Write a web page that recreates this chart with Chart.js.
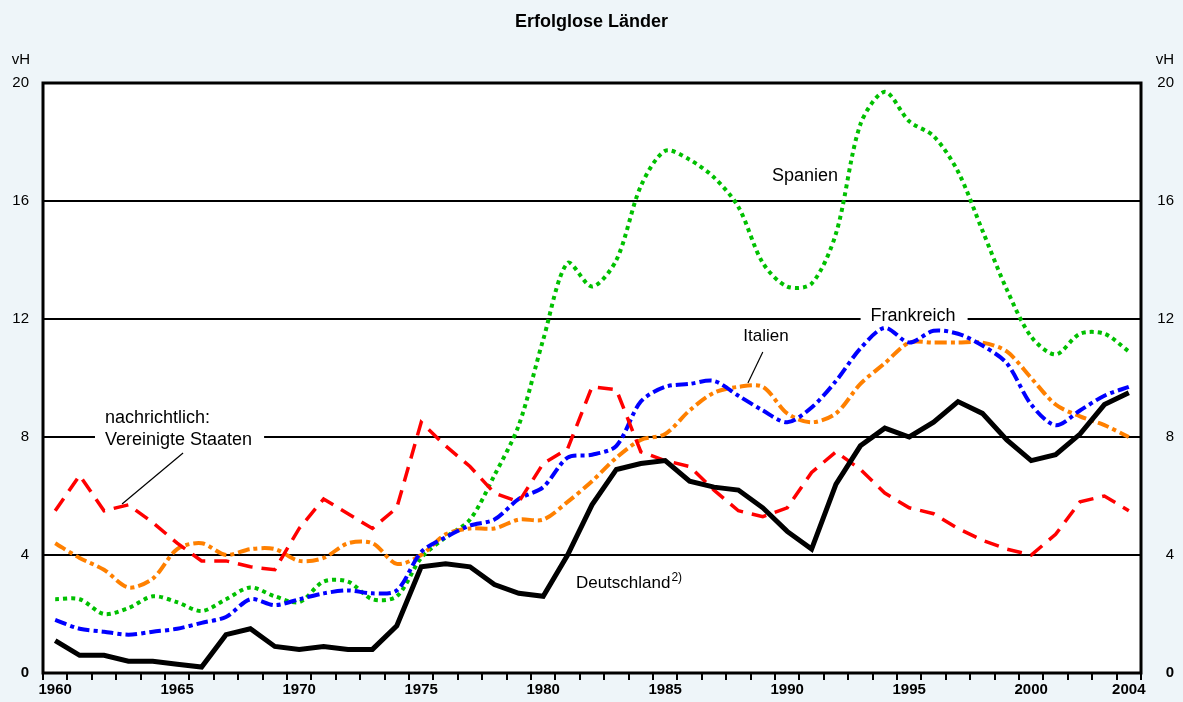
<!DOCTYPE html>
<html>
<head>
<meta charset="utf-8">
<script src="https://cdn.jsdelivr.net/npm/chart.js@4.4.1/dist/chart.umd.min.js"></script>
<style>
  body { margin: 0; background: #EEF5F9; }
  #wrap { width: 1183px; height: 702px; position: relative; }
</style>
</head>
<body>
<div id="wrap"><canvas id="mycanvas"></canvas></div>
<script>
// Arbeitslosenquoten in vH, 1960 - 2004
var years = [];
for (var y = 1960; y <= 2004; y++) years.push(String(y));

var deutschland = [1.1, 0.6, 0.6, 0.4, 0.4, 0.3, 0.2, 1.3, 1.5, 0.9,
                   0.8, 0.9, 0.8, 0.8, 1.6, 3.6, 3.7, 3.6, 3.0, 2.7,
                   2.6, 4.0, 5.7, 6.9, 7.1, 7.2, 6.5, 6.3, 6.2, 5.6,
                   4.8, 4.2, 6.4, 7.7, 8.3, 8.0, 8.5, 9.2, 8.8, 7.9,
                   7.2, 7.4, 8.1, 9.1, 9.5];
var spanien = [2.5, 2.5, 2.0, 2.2, 2.6, 2.4, 2.1, 2.5, 2.9, 2.6,
               2.4, 3.1, 3.1, 2.5, 2.6, 3.9, 4.6, 5.2, 6.7, 8.4,
               11.3, 13.9, 13.1, 14.0, 16.5, 17.7, 17.4, 16.8, 15.8, 13.9,
               13.1, 13.2, 14.9, 18.6, 19.7, 18.7, 18.2, 17.0, 15.0, 13.0,
               11.4, 10.8, 11.5, 11.5, 10.9];
var frankreich = [1.8, 1.5, 1.4, 1.3, 1.4, 1.5, 1.7, 1.9, 2.5, 2.3,
                  2.5, 2.7, 2.8, 2.7, 2.8, 4.1, 4.6, 5.0, 5.2, 5.9,
                  6.3, 7.3, 7.4, 7.7, 9.2, 9.7, 9.8, 9.9, 9.4, 8.9,
                  8.5, 9.0, 9.9, 11.0, 11.7, 11.2, 11.6, 11.5, 11.1, 10.5,
                  9.1, 8.4, 8.9, 9.4, 9.7];
var italien = [4.4, 3.9, 3.5, 2.9, 3.2, 4.2, 4.4, 4.0, 4.2, 4.2,
               3.8, 3.9, 4.4, 4.4, 3.7, 4.0, 4.7, 4.9, 4.9, 5.2,
               5.2, 5.8, 6.5, 7.3, 7.9, 8.1, 8.9, 9.5, 9.7, 9.7,
               8.8, 8.5, 8.8, 9.8, 10.5, 11.2, 11.2, 11.2, 11.2, 10.9,
               10.0, 9.1, 8.7, 8.4, 8.0];
var usa = [5.5, 6.7, 5.5, 5.7, 5.1, 4.4, 3.8, 3.8, 3.6, 3.5,
           4.9, 5.9, 5.4, 4.9, 5.6, 8.5, 7.7, 7.0, 6.1, 5.8,
           7.1, 7.6, 9.7, 9.6, 7.5, 7.2, 7.0, 6.2, 5.5, 5.3,
           5.6, 6.8, 7.5, 6.9, 6.1, 5.6, 5.4, 4.9, 4.5, 4.2,
           4.0, 4.7, 5.8, 6.0, 5.5];

var yTicks = [0, 4, 8, 12, 16, 20];

var FONT = "'Liberation Sans', Arial, sans-serif";

// Beschriftungen im Diagramm (Jahr, Wert der Grundlinie)
var labels = [
  { text: 'Spanien', year: 1990.73, value: 16.68, align: 'center', size: 18 },
  { text: 'Frankreich', year: 1995.16, value: 11.93, align: 'center', size: 18, box: true },
  { text: 'Italien', year: 1989.13, value: 11.25, align: 'center', size: 17 },
  { text: 'nachrichtlich:', year: 1962.04, value: 8.47, align: 'left', size: 18 },
  { text: 'Vereinigte Staaten', year: 1962.04, value: 7.73, align: 'left', size: 18, box: true },
  { text: 'Deutschland', year: 1981.34, value: 2.88, align: 'left', size: 17, sup: '2)' }
];
// Hinweislinien
var leaders = [
  { x1: 1989.0, y1: 10.88, x2: 1988.39, y2: 9.83 },
  { x1: 1965.24, y1: 7.46, x2: 1962.74, y2: 5.73 }
];

var px = function (chart, year) { return chart.scales.x.getPixelForValue(year - 1960); };
var py = function (chart, v) { return chart.scales.y.getPixelForValue(v); };

var decor = {
  id: 'decor',
  beforeDraw: function (chart) {
    var a = chart.chartArea, c = chart.ctx;
    c.save();
    c.fillStyle = '#ffffff';
    c.fillRect(a.left, a.top, a.right - a.left, a.bottom - a.top);
    c.restore();
  },
  beforeDatasetsDraw: function (chart) {
    var c = chart.ctx;
    c.save();
    c.textBaseline = 'alphabetic';
    c.textAlign = 'left';
    labels.forEach(function (l) {
      c.font = l.size + 'px ' + FONT;
      var x = px(chart, l.year), y = py(chart, l.value);
      var w = c.measureText(l.text).width;
      var left = l.align === 'center' ? x - w / 2 : x;
      if (l.box) {
        c.fillStyle = '#ffffff';
        c.fillRect(left - 10, y - 16, w + 22, 22);
      }
      c.fillStyle = '#000';
      c.fillText(l.text, left, y);
      if (l.sup) {
        c.font = '12px ' + FONT;
        c.fillText(l.sup, left + w + 1, y - 7);
      }
    });
    c.strokeStyle = '#000';
    c.lineWidth = 1.2;
    leaders.forEach(function (l) {
      c.beginPath();
      c.moveTo(px(chart, l.x1), py(chart, l.y1));
      c.lineTo(px(chart, l.x2), py(chart, l.y2));
      c.stroke();
    });
    c.restore();
  },
  afterDatasetsDraw: function (chart) {
    var a = chart.chartArea, c = chart.ctx;
    c.save();
    c.strokeStyle = '#000';
    c.lineWidth = 3;
    c.strokeRect(a.left, a.top, a.right - a.left, a.bottom - a.top);
    c.restore();
  },
  afterDraw: function (chart) {
    var a = chart.chartArea, c = chart.ctx;
    c.save();
    c.fillStyle = '#000';
    c.font = 'bold 18px ' + FONT;
    c.textAlign = 'center';
    c.textBaseline = 'alphabetic';
    c.fillText('Erfolglose Länder', chart.width / 2, 27);
    c.font = '15px ' + FONT;
    c.textAlign = 'right';
    c.fillText('vH', a.left - 13, 64);
    c.fillText('vH', chart.scales.y2.right, 64);
    c.restore();
  }
};

var tickFont = function (ctx) {
  return { family: FONT, size: 15, weight: ctx.tick && ctx.tick.value === 0 ? 'bold' : 'normal' };
};

var ctx_live = document.getElementById('mycanvas');
var myChart = new Chart(ctx_live, {
  type: 'line',
  data: {
    labels: years,
    datasets: [{
      label: 'Deutschland',
      data: deutschland,
      borderColor: '#000000',
      borderWidth: 5,
      borderJoinStyle: 'miter',
      tension: 0
    }, {
      label: 'Vereinigte Staaten',
      data: usa,
      borderColor: '#FF0000',
      borderWidth: 3.5,
      borderDash: [15, 9],
      tension: 0
    }, {
      label: 'Frankreich',
      data: frankreich,
      borderColor: '#0000FF',
      borderWidth: 4,
      borderDash: [12, 4, 4, 4],
      tension: 0.3
    }, {
      label: 'Italien',
      data: italien,
      borderColor: '#FF8000',
      borderWidth: 4,
      borderDash: [12, 4, 4, 4],
      tension: 0.3
    }, {
      label: 'Spanien',
      data: spanien,
      borderColor: '#00C000',
      borderWidth: 4,
      borderDash: [4, 4],
      tension: 0.3
    }]
  },
  options: {
    responsive: true,
    maintainAspectRatio: false,
    animation: false,
    layout: { padding: { top: 83, right: 9, bottom: 0, left: 0 } },
    elements: { point: { radius: 0 }, line: { borderCapStyle: 'butt', fill: false } },
    plugins: {
      legend: { display: false },
      tooltip: { enabled: false },
      title: { display: false }
    },
    scales: {
      x: {
        type: 'category',
        offset: true,
        grid: { offset: true, drawOnChartArea: false, drawTicks: true, tickLength: 7, color: '#000', lineWidth: 2 },
        border: { display: false },
        ticks: {
          autoSkip: false,
          maxRotation: 0,
          padding: 1,
          color: '#000',
          font: { family: FONT, size: 15, weight: 'bold' },
          callback: function (val) {
            var yr = Number(this.getLabelForValue(val));
            return (yr % 5 === 0 || yr === 2004) ? String(yr) : '';
          }
        },
        afterFit: function (s) { s.height = 29; }
      },
      y: {
        position: 'left',
        min: 0,
        max: 20,
        afterBuildTicks: function (s) { s.ticks = yTicks.map(function (v) { return { value: v }; }); },
        grid: { color: '#000', lineWidth: 2, drawTicks: false },
        border: { display: false },
        ticks: { padding: 14, color: '#000', font: tickFont },
        afterFit: function (s) { s.width = 43; }
      },
      y2: {
        position: 'right',
        min: 0,
        max: 20,
        afterBuildTicks: function (s) { s.ticks = yTicks.map(function (v) { return { value: v }; }); },
        grid: { display: false, drawTicks: false },
        border: { display: false },
        ticks: { crossAlign: 'far', color: '#000', font: tickFont },
        afterFit: function (s) { s.width = 33; }
      }
    }
  },
  plugins: [decor]
});
</script>
</body>
</html>
